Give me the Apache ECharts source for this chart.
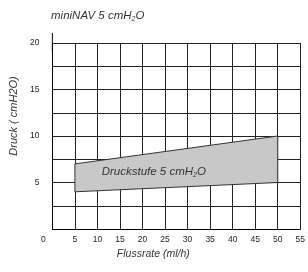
<!DOCTYPE html>
<html>
<head>
<meta charset="utf-8">
<script src="https://cdn.jsdelivr.net/npm/echarts@6/dist/echarts.min.js"></script>
<style>html,body{margin:0;padding:0;background:#fff}#c{width:308px;height:272px}</style>
</head>
<body>
<div id="c"></div>
<script>
var xTicks = [0, 5, 10, 15, 20, 25, 30, 35, 40, 45, 50, 55];
var yTicks = [5, 10, 15, 20];
var bandX = [5, 5, 50, 50];
var bandY = [4, 7, 10, 5];
var bandLabel = 'Druckstufe 5 cmH';
var titleText = 'miniNAV 5 cmH';
var xName = 'Flussrate (ml/h)';
var yName = 'Druck ( cmH2O)';

var FONT = 'Liberation Sans';
var chart = echarts.init(document.getElementById('c'), null, {renderer: 'canvas'});
var labelAt = [22.5, 6.2];

chart.setOption({
  animation: false,
  title: {
    text: '{n|' + titleText + '}{s|2}{n|O}',
    left: 46, top: 4,
    textStyle: {
      fontWeight: 'normal',
      rich: {
        n: {fontFamily: FONT, fontStyle: 'italic', fontWeight: 'normal', fontSize: 11.5, color: '#333'},
        s: {fontFamily: FONT, fontStyle: 'italic', fontWeight: 'normal', fontSize: 7, color: '#333', padding: [7, 0, 0, 0]}
      }
    }
  },
  grid: {left: 48, right: 5, top: 43, bottom: 43, containLabel: false},
  xAxis: {
    type: 'value', min: 0, max: 55, interval: 5,
    name: xName, nameLocation: 'middle', nameGap: 18,
    nameTextStyle: {fontFamily: FONT, fontStyle: 'italic', fontSize: 10.5, color: '#333', padding: [0, 46, 0, 0]},
    axisLine: {show: true, onZero: false, lineStyle: {color: '#000', width: 1}},
    axisTick: {show: false},
    axisLabel: {
      margin: 6, fontFamily: FONT, fontSize: 8.5, color: '#222',
      formatter: function (v) { return xTicks.indexOf(v) === 0 ? '{z|' + v + '}' : String(v); },
      rich: {z: {fontFamily: FONT, fontSize: 8.5, color: '#222', padding: [0, 18, 0, 0]}}
    },
    splitLine: {show: true, lineStyle: {color: '#222', width: 1}}
  },
  yAxis: {
    type: 'value', min: 0, max: 20, interval: 2.5,
    name: yName, nameLocation: 'middle', nameGap: 30,
    nameTextStyle: {fontFamily: FONT, fontStyle: 'italic', fontSize: 11, color: '#333', padding: [0, 0, 0, 40]},
    axisLine: {show: true, onZero: false, lineStyle: {color: '#000', width: 1},
      symbol: ['none', 'rect'], symbolSize: [1, 20]},
    axisTick: {show: false},
    axisLabel: {
      margin: 13, fontFamily: FONT, fontSize: 8.5, color: '#222',
      formatter: function (v) { return yTicks.indexOf(v) >= 0 ? String(v) : ''; }
    },
    splitLine: {show: true, lineStyle: {color: '#222', width: 1}}
  },
  series: [{
    type: 'custom',
    data: [0],
    renderItem: function (params, api) {
      var pts = bandX.map(function (x, i) { return api.coord([x, bandY[i]]); });
      var lp = api.coord(labelAt);
      return {
        type: 'group',
        children: [{
          type: 'polygon',
          shape: {points: pts},
          style: {fill: '#c8c8c8', stroke: '#333', lineWidth: 1}
        }, {
          type: 'text',
          x: lp[0], y: lp[1],
          style: {
            text: '{n|' + bandLabel + '}{s|2}{n|O}',
            align: 'center', verticalAlign: 'middle',
            rich: {
              n: {fontFamily: FONT, fontStyle: 'italic', fontSize: 11.5, fill: '#333'},
              s: {fontFamily: FONT, fontStyle: 'italic', fontSize: 7, fill: '#333', padding: [7, 0, 0, 0]}
            }
          }
        }]
      };
    }
  }]
});
</script>
</body>
</html>
